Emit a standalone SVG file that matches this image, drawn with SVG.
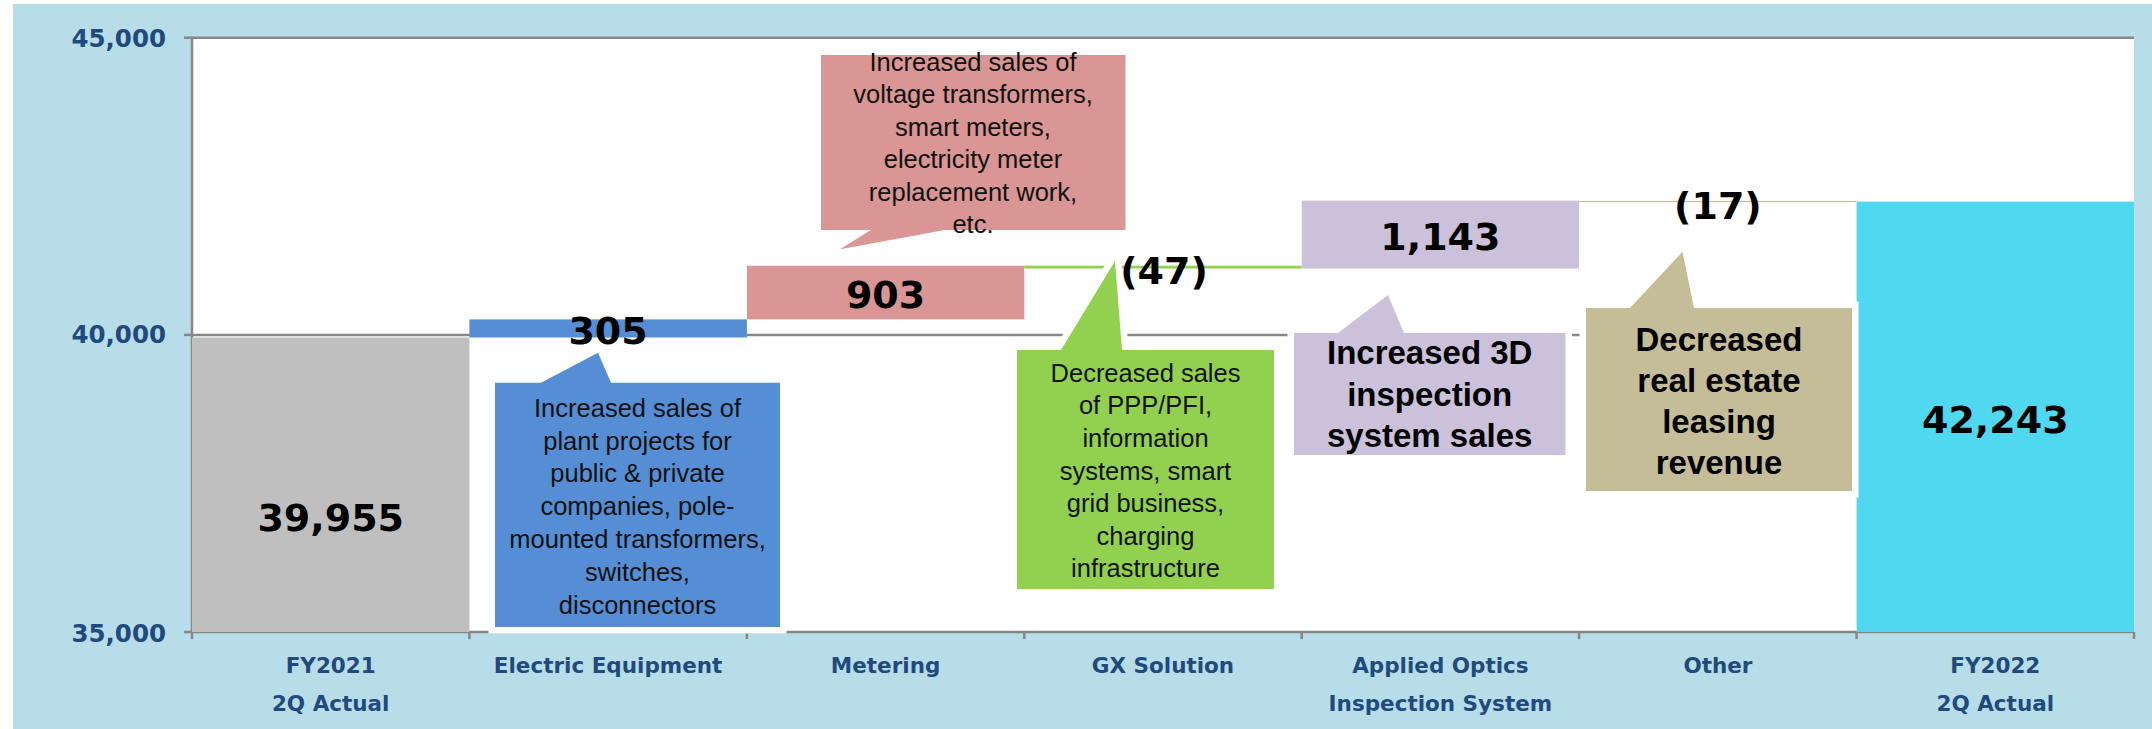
<svg xmlns="http://www.w3.org/2000/svg" width="2152" height="729" viewBox="0 0 2152 729">
  <style>
    .axis-num { font-family: "DejaVu Sans", Verdana, sans-serif; font-weight: bold; font-size: 24.5px; fill: #1f4a7e; text-anchor: end; }
    .cat { font-family: "DejaVu Sans", Verdana, sans-serif; font-weight: bold; font-size: 21.5px; fill: #1f4a7e; text-anchor: middle; }
    .val { font-family: "DejaVu Sans", Verdana, sans-serif; font-weight: bold; font-size: 38px; fill: #000; text-anchor: middle; }
    .note { font-family: "Liberation Sans", Arial, sans-serif; font-size: 25.5px; fill: #111; text-anchor: middle; }
    .note-b { font-family: "Liberation Sans", Arial, sans-serif; font-weight: bold; font-size: 33px; fill: #000; text-anchor: middle; }
    .grid { stroke: #878787; stroke-width: 2.5; fill: none; }
    .callout { stroke: #ffffff; stroke-width: 13; paint-order: stroke; stroke-linejoin: miter; }
  </style>

  <!-- page and plot area -->
  <rect x="0" y="0" width="2152" height="729" fill="#ffffff"/>
  <rect x="13" y="4" width="2139" height="725" fill="#b7dde8"/>
  <rect x="192" y="37.7" width="1942" height="594.3" fill="#ffffff"/>

  <!-- gridlines, axes, ticks -->
  <g id="axes">
    <line class="grid" x1="192" y1="37.7" x2="2134" y2="37.7"/>
    <line class="grid" x1="192" y1="334.9" x2="2134" y2="334.9"/>
    <line class="grid" x1="192" y1="37.7" x2="192" y2="632"/>
    <line class="grid" x1="184" y1="37.7" x2="192" y2="37.7"/>
    <line class="grid" x1="184" y1="334.9" x2="192" y2="334.9"/>
    <line class="grid" x1="184" y1="632" x2="192" y2="632"/>
    <line class="grid" x1="192" y1="632" x2="2134" y2="632"/>
    <path class="grid" d="M192,632V639 M469.4,632V639 M746.9,632V639 M1024.3,632V639 M1301.7,632V639 M1579.1,632V639 M1856.6,632V639 M2134,632V639"/>
    <text class="axis-num" x="166" y="46.7">45,000</text>
    <text class="axis-num" x="166" y="343.3">40,000</text>
    <text class="axis-num" x="166" y="641.7">35,000</text>
  </g>

  <!-- waterfall bars -->
  <g id="bars">
    <rect x="192" y="337.5" width="277.4" height="294.5" fill="#bfbfbf"/>
    <rect x="469.4" y="319.4" width="277.5" height="18.1" fill="#558ed5"/>
    <rect x="746.9" y="265.7" width="277.4" height="53.7" fill="#d99694"/>
    <rect x="1024.3" y="265.7" width="277.4" height="2.8" fill="#92d050"/>
    <rect x="1301.7" y="200.6" width="277.4" height="67.9" fill="#ccc1da"/>
    <rect x="1579.1" y="200.9" width="277.5" height="1.2" fill="#c4bd97"/>
    <rect x="1856.6" y="201.6" width="277.4" height="430.4" fill="#50d8f0"/>
  </g>

  <!-- category labels -->
  <g id="categories">
    <text class="cat" x="330.7" y="673.3">FY2021</text>
    <text class="cat" x="330.7" y="710.7">2Q Actual</text>
    <text class="cat" x="608.1" y="673.3">Electric Equipment</text>
    <text class="cat" x="885.6" y="673.3">Metering</text>
    <text class="cat" x="1163" y="673.3">GX Solution</text>
    <text class="cat" x="1440.4" y="673.3">Applied Optics</text>
    <text class="cat" x="1440.4" y="710.7">Inspection System</text>
    <text class="cat" x="1717.9" y="673.3">Other</text>
    <text class="cat" x="1995.3" y="673.3">FY2022</text>
    <text class="cat" x="1995.3" y="710.7">2Q Actual</text>
  </g>

  <!-- callouts -->
  <g id="note-electric">
    <path class="callout" fill="#558ed5" d="M495,382.7 H541 L598,352.7 L611,382.7 H780 V627 H495 Z"/>
    <text class="note" x="637.5" y="416.7">Increased sales of</text>
    <text class="note" x="637.5" y="449.5">plant projects for</text>
    <text class="note" x="637.5" y="482.3">public &amp; private</text>
    <text class="note" x="637.5" y="515.1">companies, pole-</text>
    <text class="note" x="637.5" y="547.9">mounted transformers,</text>
    <text class="note" x="637.5" y="580.7">switches,</text>
    <text class="note" x="637.5" y="613.5">disconnectors</text>
  </g>

  <g id="note-metering">
    <path class="callout" fill="#d99694" d="M821,55 H1125.5 V230 H945 L840,249.3 L871,230 H821 Z"/>
    <text class="note" x="973" y="70.7">Increased sales of</text>
    <text class="note" x="973" y="103.2">voltage transformers,</text>
    <text class="note" x="973" y="135.7">smart meters,</text>
    <text class="note" x="973" y="168.2">electricity meter</text>
    <text class="note" x="973" y="200.7">replacement work,</text>
    <text class="note" x="973" y="233.2">etc.</text>
  </g>

  <g id="note-gx">
    <path class="callout" fill="#92d050" d="M1017,350 H1061 L1115,261 L1122,350 H1274 V589 H1017 Z"/>
    <text class="note" x="1145.5" y="381.7">Decreased sales</text>
    <text class="note" x="1145.5" y="414.3">of PPP/PFI,</text>
    <text class="note" x="1145.5" y="446.9">information</text>
    <text class="note" x="1145.5" y="479.5">systems, smart</text>
    <text class="note" x="1145.5" y="512.1">grid business,</text>
    <text class="note" x="1145.5" y="544.7">charging</text>
    <text class="note" x="1145.5" y="577.3">infrastructure</text>
  </g>

  <g id="note-optics">
    <path class="callout" fill="#ccc1da" d="M1294,333 H1338 L1388,295 L1404,333 H1565.5 V455 H1294 Z"/>
    <text class="note-b" x="1429.7" y="364">Increased 3D</text>
    <text class="note-b" x="1429.7" y="405.7">inspection</text>
    <text class="note-b" x="1429.7" y="447.4">system sales</text>
  </g>

  <g id="note-other">
    <path class="callout" fill="#c4bd97" d="M1586,308 H1630 L1682.5,251.7 L1694,308 H1852 V491 H1586 Z"/>
    <text class="note-b" x="1719" y="350.7">Decreased</text>
    <text class="note-b" x="1719" y="391.7">real estate</text>
    <text class="note-b" x="1719" y="432.7">leasing</text>
    <text class="note-b" x="1719" y="473.7">revenue</text>
  </g>

  <!-- bar values -->
  <g id="values">
    <text class="val" x="330.7" y="531">39,955</text>
    <text class="val" x="608.1" y="344.4">305</text>
    <text class="val" x="885.6" y="308.3">903</text>
    <text class="val" x="1164" y="284.4">(47)</text>
    <text class="val" x="1440.4" y="250.4">1,143</text>
    <text class="val" x="1717.9" y="219.4">(17)</text>
    <text class="val" x="1995.3" y="432.7">42,243</text>
  </g>
</svg>
